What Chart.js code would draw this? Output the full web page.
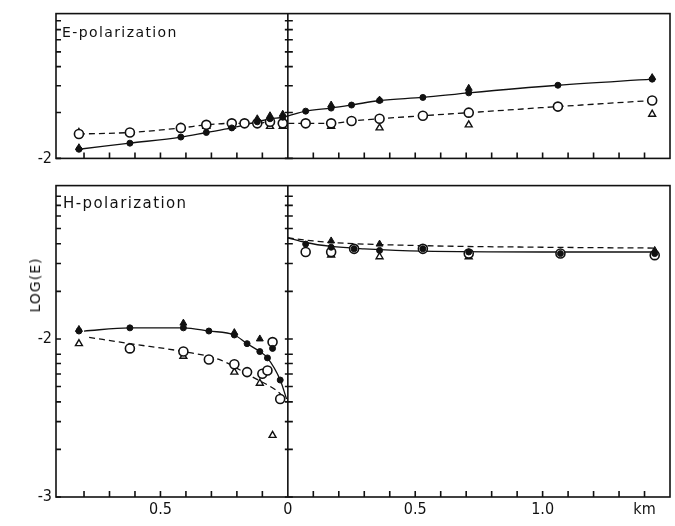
<!DOCTYPE html>
<html>
<head>
<meta charset="utf-8">
<script src="https://cdn.jsdelivr.net/npm/chart.js@4.4.1/dist/chart.umd.min.js"></script>
<style>
  html, body { margin: 0; padding: 0; background: #fff; }
  #wrap { position: relative; width: 675px; height: 526px; overflow: hidden; font-family: "DejaVu Sans", sans-serif; color: #111; }
  canvas { position: absolute; left: 0; }
  #cTop { top: 0; }
  #cBot { top: 172px; }
  .lbl { position: absolute; white-space: nowrap; letter-spacing: 1.4px; }
</style>
</head>
<body>
<div id="wrap">
  <canvas id="cTop" width="675" height="172"></canvas>
  <canvas id="cBot" width="675" height="354"></canvas>
  <div class="lbl" style="left:62px;top:24px;font-size:14px">E-polarization</div>
  <div class="lbl" style="left:63px;top:194px;font-size:15px">H-polarization</div>
  <div class="lbl" style="left:35px;top:285px;font-size:14px;letter-spacing:1px;transform:translate(-50%,-50%) rotate(-90deg)">LOG(E)</div>
</div>
<script>
// Field amplitude profiles across the contact (x in km, values in LOG(E)).
// Filled dots = solid curve, open circles = dashed curve, triangles are extra data.

const X_MIN = -0.91, X_MAX = 1.5;
const X_TICK_VALUES = [-0.8,-0.7,-0.6,-0.5,-0.4,-0.3,-0.2,-0.1,0,0.1,0.2,0.3,0.4,0.5,0.6,0.7,0.8,0.9,1.0,1.1,1.2,1.3,1.4];
const X_TICK_LABELS = ["","","","0.5","","","","","0","","","","","0.5","","","","","1.0","","","","km"];

const Y_TICKS_E = [-2,-1.699,-1.523,-1.398,-1.301,-1.222,-1.155,-1.097];
const Y_LABELS_E = ["-2","","","","","","",""];
const Y_TICKS_H = [-3,-2.699,-2.523,-2.398,-2.301,-2.222,-2.155,-2.097,-2,-1.699,-1.523,-1.398,-1.301,-1.222,-1.155,-1.097];
const Y_LABELS_H = ["-3","","","","","","","","-2","","","","","","",""];

// --- E-polarization
const E_DOT_X  = [-0.82,-0.62,-0.42,-0.32,-0.22,-0.12,-0.07,-0.02,0.07,0.17,0.25,0.36,0.53,0.71,1.06,1.43];
const E_DOT_Y  = [-1.94,-1.90,-1.86,-1.83,-1.80,-1.76,-1.74,-1.73,-1.69,-1.67,-1.65,-1.62,-1.60,-1.57,-1.52,-1.48];
const E_OPEN_X = [-0.82,-0.62,-0.42,-0.32,-0.22,-0.17,-0.12,-0.07,-0.02,0.07,0.17,0.25,0.36,0.53,0.71,1.06,1.43];
const E_OPEN_Y = [-1.84,-1.83,-1.80,-1.78,-1.77,-1.77,-1.77,-1.76,-1.77,-1.77,-1.77,-1.755,-1.74,-1.72,-1.70,-1.66,-1.62];
const E_FTRI_X = [-0.82,-0.12,-0.07,-0.02,0.17,0.36,0.71,1.43];
const E_FTRI_Y = [-1.93,-1.74,-1.72,-1.71,-1.65,-1.617,-1.54,-1.47];
const E_OTRI_X = [-0.82,-0.42,-0.32,-0.22,-0.07,-0.02,0.17,0.36,0.71,1.43];
const E_OTRI_Y = [-1.83,-1.80,-1.79,-1.79,-1.79,-1.79,-1.79,-1.80,-1.78,-1.71];

// --- H-polarization
const H_SOLID_L_X = [-0.80,-0.62,-0.41,-0.31,-0.21,-0.16,-0.11,-0.08,-0.03,-0.005];
const H_SOLID_L_Y = [-1.95,-1.93,-1.93,-1.95,-1.975,-2.03,-2.08,-2.12,-2.26,-2.38];
const H_DASH_L_X  = [-0.78,-0.62,-0.41,-0.27,-0.14,-0.05,-0.02];
const H_DASH_L_Y  = [-1.99,-2.03,-2.08,-2.13,-2.24,-2.32,-2.36];
const H_SOLID_R_X = [0,0.07,0.17,0.30,0.53,1.0,1.44];
const H_SOLID_R_Y = [-1.36,-1.39,-1.415,-1.43,-1.445,-1.45,-1.45];
const H_DASH_R_X  = [0,0.10,0.17,0.53,1.0,1.44];
const H_DASH_R_Y  = [-1.36,-1.38,-1.39,-1.41,-1.42,-1.425];

const H_DOT_X  = [-0.82,-0.62,-0.41,-0.31,-0.21,-0.16,-0.11,-0.08,-0.06,-0.03,0.07,0.17,0.26,0.36,0.53,0.71,1.07,1.44];
const H_DOT_Y  = [-1.95,-1.93,-1.93,-1.95,-1.975,-2.03,-2.08,-2.12,-2.06,-2.26,-1.40,-1.42,-1.43,-1.44,-1.43,-1.45,-1.46,-1.46];
const H_OPEN_X = [-0.62,-0.41,-0.31,-0.21,-0.16,-0.10,-0.08,-0.06,-0.03,0.07,0.17,0.26,0.53,0.71,1.07,1.44];
const H_OPEN_Y = [-2.06,-2.08,-2.13,-2.16,-2.21,-2.22,-2.20,-2.02,-2.38,-1.45,-1.45,-1.43,-1.43,-1.46,-1.46,-1.47];
const H_FTRI_X = [-0.82,-0.41,-0.21,-0.11,0.17,0.36,1.44];
const H_FTRI_Y = [-1.94,-1.90,-1.96,-2.00,-1.38,-1.40,-1.44];
const H_OTRI_X = [-0.82,-0.41,-0.21,-0.11,-0.06,0.17,0.36,0.71,1.44];
const H_OTRI_Y = [-2.03,-2.11,-2.21,-2.28,-2.61,-1.47,-1.48,-1.48,-1.47];

const INK = "#111";
const pts = (xs, ys) => xs.map((x, i) => ({x, y: ys[i]}));

const curve = (xs, ys, dashed) => ({
  data: pts(xs, ys), showLine: true, pointRadius: 0, borderColor: INK, borderWidth: 1.3,
  borderDash: dashed ? [6, 4] : [], cubicInterpolationMode: "monotone", order: 5
});
const dots  = (xs, ys) => ({ data: pts(xs, ys), pointStyle: "circle", pointRadius: 3, backgroundColor: INK, borderColor: INK, borderWidth: 1, order: 1 });
const rings = (xs, ys) => ({ data: pts(xs, ys), pointStyle: "circle", pointRadius: 4.5, backgroundColor: "#fff", borderColor: INK, borderWidth: 1.6, order: 2 });
const ftri  = (xs, ys) => ({ data: pts(xs, ys), pointStyle: "triangle", pointRadius: 4, backgroundColor: INK, borderColor: INK, borderWidth: 1, order: 3 });
const otri  = (xs, ys) => ({ data: pts(xs, ys), pointStyle: "triangle", pointRadius: 4, backgroundColor: "#fff", borderColor: INK, borderWidth: 1.4, order: 4 });

// frame box, inward ticks and the x=0 axis
const frame = {
  id: "frame",
  beforeDatasetsDraw(c) {
    const {ctx, chartArea: a, scales: {x, y}} = c;
    const x0 = x.getPixelForValue(0);
    ctx.save();
    ctx.strokeStyle = INK;
    ctx.lineWidth = 1.6;
    ctx.strokeRect(a.left, a.top, a.right - a.left, a.bottom - a.top);
    ctx.beginPath();
    ctx.moveTo(x0, a.top); ctx.lineTo(x0, a.bottom);
    x.ticks.forEach(t => { const p = x.getPixelForValue(t.value); ctx.moveTo(p, a.bottom); ctx.lineTo(p, a.bottom - 6); });
    y.ticks.forEach(t => {
      const p = y.getPixelForValue(t.value);
      ctx.moveTo(a.left, p); ctx.lineTo(a.left + 5, p);
      ctx.moveTo(x0 - 3, p); ctx.lineTo(x0 + 5, p);
    });
    ctx.stroke();
    ctx.restore();
  }
};

function panel(id, yMin, yMax, yTicks, yLabels, showX, xAxisH, datasets) {
  const canvas = document.getElementById(id);
  return new Chart(canvas, {
    type: "scatter",
    data: { datasets },
    plugins: [frame],
    options: {
      responsive: false, animation: false, devicePixelRatio: 1,
      layout: { autoPadding: false, padding: { left: 0, right: 5, top: id === "cTop" ? 13 : 11, bottom: 0 } },
      plugins: { legend: { display: false }, tooltip: { enabled: false } },
      scales: {
        x: {
          type: "linear", min: X_MIN, max: X_MAX,
          border: { display: false }, grid: { display: false, drawTicks: false },
          afterBuildTicks: s => { s.ticks = X_TICK_VALUES.map(v => ({value: v})); },
          afterFit: s => { s.height = xAxisH; },
          ticks: {
            display: showX, autoSkip: false, maxRotation: 0, minRotation: 0, padding: 3,
            color: INK, font: { family: "DejaVu Sans Condensed", size: 16 },
            callback: (v, i) => X_TICK_LABELS[i]
          }
        },
        y: {
          type: "linear", min: yMin, max: yMax,
          border: { display: false }, grid: { display: false, drawTicks: false },
          afterBuildTicks: s => { s.ticks = yTicks.map(v => ({value: v})); },
          afterFit: s => { s.width = 56; },
          ticks: {
            autoSkip: false, padding: 4, color: INK,
            font: { family: "DejaVu Sans Condensed", size: 16 },
            callback: (v, i) => yLabels[i]
          }
        }
      }
    }
  });
}

panel("cTop", -2, -1.05, Y_TICKS_E, Y_LABELS_E, false, 8, [
  curve(E_DOT_X, E_DOT_Y, false),
  curve(E_OPEN_X, E_OPEN_Y, true),
  dots(E_DOT_X, E_DOT_Y),
  rings(E_OPEN_X, E_OPEN_Y),
  ftri(E_FTRI_X, E_FTRI_Y),
  otri(E_OTRI_X, E_OTRI_Y)
]);

panel("cBot", -3, -1.03, Y_TICKS_H, Y_LABELS_H, true, 29, [
  curve(H_SOLID_L_X, H_SOLID_L_Y, false),
  curve(H_DASH_L_X, H_DASH_L_Y, true),
  curve(H_SOLID_R_X, H_SOLID_R_Y, false),
  curve(H_DASH_R_X, H_DASH_R_Y, true),
  dots(H_DOT_X, H_DOT_Y),
  rings(H_OPEN_X, H_OPEN_Y),
  ftri(H_FTRI_X, H_FTRI_Y),
  otri(H_OTRI_X, H_OTRI_Y)
]);
</script>
</body>
</html>
